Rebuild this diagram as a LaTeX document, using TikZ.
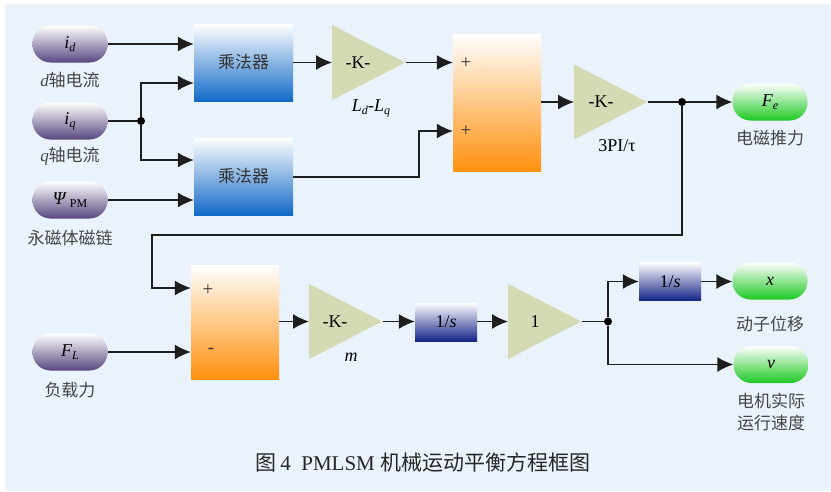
\documentclass[tikz,border=0pt]{standalone}
\usepackage{fontspec}
\setmainfont{Liberation Serif}
\newfontfamily\cjk{Noto Sans CJK SC}
\usetikzlibrary{arrows.meta,shapes.geometric}
\definecolor{bgblue}{RGB}{234,242,251}
\definecolor{pillpurple}{RGB}{88,70,128}
\definecolor{pillgreen}{RGB}{30,200,35}
\definecolor{multblue}{RGB}{18,105,200}
\definecolor{sumorange}{RGB}{255,145,15}
\definecolor{intnavy}{RGB}{20,35,135}
\definecolor{gainkhaki}{RGB}{211,218,180}
\definecolor{linegray}{RGB}{30,30,30}
\definecolor{labgray}{RGB}{70,70,70}
\newcommand\mysub[1]{\raisebox{-0.35ex}{\fontsize{12}{12}\selectfont #1}}
\begin{document}
\begin{tikzpicture}[x=1pt,y=-1pt,
  inpill/.style={rounded corners=18pt, minimum width=75pt, minimum height=37pt, inner sep=0pt,
    top color=white, bottom color=pillpurple, font=\fontsize{18}{20}\selectfont},
  outpill/.style={rounded corners=18pt, minimum width=75pt, minimum height=37pt, inner sep=0pt,
    top color=white, bottom color=pillgreen, font=\fontsize{18}{20}\selectfont},
  multbox/.style={minimum width=99pt, minimum height=77pt, inner sep=0pt,
    top color=white, bottom color=multblue, font=\cjk\fontsize{17}{20}\selectfont, text=black!80},
  sumbox/.style={minimum width=88pt, inner sep=0pt, top color=white, bottom color=sumorange},
  intbox/.style={minimum width=62pt, minimum height=38pt, inner sep=0pt,
    top color=white, bottom color=intnavy, font=\fontsize{18}{20}\selectfont},
  gain/.style={isosceles triangle, isosceles triangle stretches, shape border rotate=0,
    minimum width=75pt, minimum height=73pt, inner sep=0pt, fill=gainkhaki, draw=none, anchor=lower side},
  gaintxt/.style={font=\fontsize{18}{20}\selectfont, inner sep=0pt},
  lab/.style={font=\cjk\fontsize{17}{20}\selectfont, text=labgray, inner sep=0pt},
  pm/.style={font=\fontsize{19}{20}\selectfont, inner sep=0pt, text=black!80},
  conn/.style={draw=linegray, line width=1.4pt, -{Latex[length=16pt,width=15pt]}},
  wire/.style={draw=linegray, line width=1.4pt},
  dot/.style={circle, fill=black, minimum size=8pt, inner sep=0pt}
]
\useasboundingbox (0,0) rectangle (831,491);
\fill[bgblue] (5,4) rectangle (831,491);

% inputs
\node[inpill] (id) at (70,44) {\textit{i}\mysub{\textit{d}}};
\node[lab] (idl) at (70,80) {{\rmfamily\itshape d}轴电流};
\node[inpill] (iq) at (70,121) {\textit{i}\mysub{\textit{q}}};
\node[lab] (iql) at (70,156) {{\rmfamily\itshape q}轴电流};
\node[inpill] (psi) at (70,200) {\textit{Ψ}\,\mysub{PM}};
\node[lab] (psil) at (70,238) {永磁体磁链};
\node[inpill] (FL) at (70,352) {\textit{F}\mysub{\textit{L}}};
\node[lab] (FLl) at (70,390) {负载力};

% multipliers
\node[multbox] (m1) at (243.5,62.5) {乘法器};
\node[multbox] (m2) at (243.5,176.5) {乘法器};

% gain Ld-Lq
\node[gain] (g1) at (332,62.5) {};
\node[gaintxt] (g1t) at (358,62.5) {-K-};
\node[gaintxt] (g1l) at (371,108) {\textit{L}\mysub{\textit{d}}-\textit{L}\mysub{\textit{q}}};

% sum 1
\node[sumbox, minimum height=137pt] (s1) at (497,102.5) {};
\node[pm] (s1p1) at (466,63) {+};
\node[pm] (s1p2) at (466,131) {+};

% gain 3PI/tau
\node[gain] (g2) at (574,102) {};
\node[gaintxt] (g2t) at (601,102) {-K-};
\node[gaintxt] (g2l) at (617,146) {3PI/τ};

\node[dot] (j1) at (682,102) {};
\node[outpill] (Fe) at (770,102) {\textit{F}\mysub{\textit{e}}};
\node[lab] (Fel) at (770,138) {电磁推力};

% sum 2
\node[sumbox, minimum height=114pt] (s2) at (235,322) {};
\node[pm] (s2p1) at (208,290) {+};
\node[pm] (s2p2) at (211,351) {-};

% gain m
\node[gain] (g3) at (309,321.5) {};
\node[gaintxt] (g3t) at (335,321.5) {-K-};
\node[gaintxt] (g3l) at (351,357) {\textit{m}};

\node[intbox] (int1) at (446,322) {1/\textit{s}};

\node[gain] (g4) at (508,321.5) {};
\node[gaintxt] (g4t) at (535,321.5) {1};

\node[dot] (j2) at (608,321.5) {};
\node[intbox] (int2) at (670,281.5) {1/\textit{s}};
\node[outpill] (xo) at (770,281) {\textit{x}};
\node[lab] (xol) at (770,324) {动子位移};
\node[outpill] (vo) at (771,364.5) {\textit{v}};
\node[lab, align=center] (vol) at (771,412.5) {电机实际\\[2pt]运行速度};

% caption
\node[font=\fontsize{21}{24}\selectfont, text=black!85, inner sep=0pt] (cap) at (423,462)
  {{\cjk 图}\,4\enspace PMLSM {\cjk 机械运动平衡方程框图}};

% coordinates for wiring
\coordinate (b1) at (141,83);
\coordinate (b2) at (141,160);
\coordinate (c1) at (419,177);
\coordinate (c2) at (419,131);
\coordinate (f1) at (682,235);
\coordinate (f2) at (152,235);
\coordinate (f3) at (152,288);
\coordinate (k1) at (608,281.5);
\coordinate (k2) at (608,364.5);

% connectors
\draw[conn] (id.east) -- (id.east -| m1.west);
\node[dot] (jq) at (141,121) {};
\draw[wire] (iq.east) -- (jq);
\draw[conn] (jq) -- (b1) -- (b1 -| m1.west);
\draw[conn] (jq) -- (b2) -- (b2 -| m2.west);
\draw[conn] (psi.east) -- (psi.east -| m2.west);
\draw[conn] (m1.east |- g1.lower side) -- (g1.lower side);
\draw[conn] (g1.apex) -- (g1.apex -| s1.west);
\draw[conn] (m2.east |- c1) -- (c1) -- (c2) -- (c2 -| s1.west);
\draw[conn] (s1.east |- g2.lower side) -- (g2.lower side);
\draw[wire] (g2.apex) -- (j1);
\draw[conn] (j1) -- (Fe.west);
\draw[conn] (j1) -- (f1) -- (f2) -- (f3) -- (f3 -| s2.west);
\draw[conn] (FL.east) -- (FL.east -| s2.west);
\draw[conn] (s2.east |- g3.lower side) -- (g3.lower side);
\draw[conn] (g3.apex) -- (g3.apex -| int1.west);
\draw[conn] (int1.east |- g4.lower side) -- (g4.lower side);
\draw[wire] (g4.apex) -- (j2);
\draw[conn] (j2) -- (k1) -- (int2.west);
\draw[conn] (int2.east) -- (int2.east -| xo.west);
\draw[conn] (j2) -- (k2) -- (vo.west);
\end{tikzpicture}
\end{document}
